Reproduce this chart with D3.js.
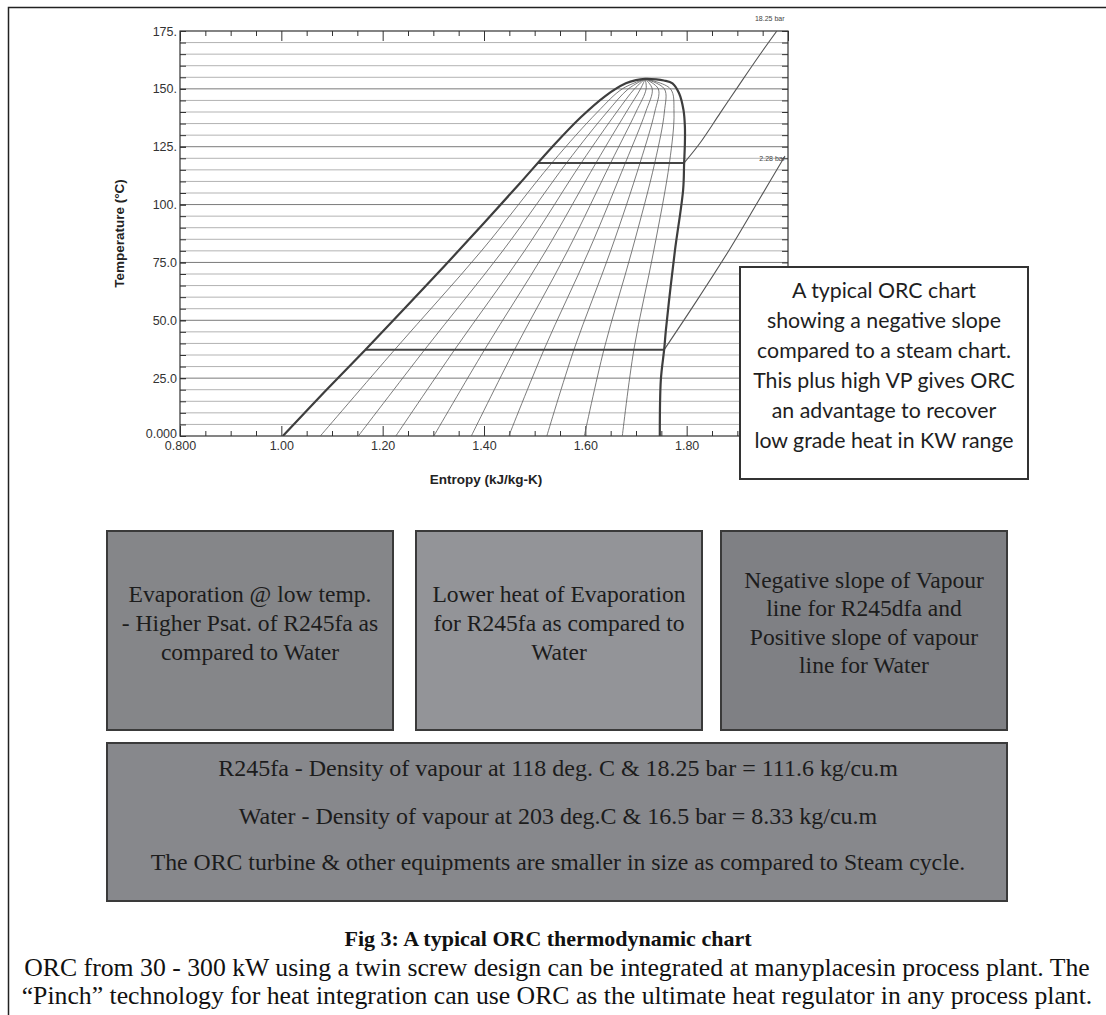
<!DOCTYPE html>
<html>
<head>
<meta charset="utf-8">
<script src="https://cdn.jsdelivr.net/npm/d3@7"></script>
<style>
  body { margin: 0; background: #fff; }
  svg { display: block; }
</style>
</head>
<body>
<svg id="chart"></svg>
<script>
// ---- data (entropy kJ/kg-K, temperature °C) ----
const xMajor = [0.8, 1.0, 1.2, 1.4, 1.6, 1.8, 2.0];
// the 2.00 label sits under the note box in the figure, so it is left blank
const xLabels = ['0.800', '1.00', '1.20', '1.40', '1.60', '1.80', ''];
const yMajor = [0, 25, 50, 75, 100, 125, 150, 175];
const yLabels = ['0.000', '25.0', '50.0', '75.0', '100.', '125.', '150.', '175.'];

// saturated liquid line, bottom to critical point
const liquidLine = [[1.003, 0], [1.085, 19], [1.166, 37.3], [1.245, 55.5], [1.322, 73.5],
  [1.40, 92], [1.47, 109], [1.535, 125], [1.59, 137.5], [1.64, 147], [1.68, 152.4], [1.70, 153.8], [1.718, 154.3]];
// saturated vapour line, critical point to bottom
const vapourLine = [[1.718, 154.3], [1.740, 154.1], [1.755, 153.6], [1.772, 152.4], [1.785, 148.1],
  [1.7937, 140.9], [1.7965, 133.7], [1.7965, 126.5], [1.795, 117.9], [1.793, 106.3], [1.777, 80.4],
  [1.767, 62], [1.759, 45.8], [1.7557, 37.6], [1.749, 24.2], [1.747, 0]];

// constant quality lines (0.1 ... 0.9): entropy at each of these temperatures
const qualityTemps = [0, 37.6, 80, 118, 140, 150, 154.3];
const qualityS = [
  [1.077, 1.225, 1.395, 1.534, 1.624, 1.673, 1.718],
  [1.152, 1.284, 1.437, 1.563, 1.643, 1.685, 1.718],
  [1.226, 1.343, 1.480, 1.592, 1.662, 1.697, 1.718],
  [1.301, 1.402, 1.522, 1.621, 1.681, 1.709, 1.718],
  [1.375, 1.461, 1.565, 1.650, 1.700, 1.720, 1.718],
  [1.449, 1.519, 1.607, 1.679, 1.719, 1.732, 1.718],
  [1.524, 1.578, 1.650, 1.708, 1.737, 1.744, 1.718],
  [1.598, 1.637, 1.692, 1.737, 1.756, 1.756, 1.718],
  [1.673, 1.696, 1.735, 1.766, 1.775, 1.768, 1.718]
];

// evaporation / condensation isotherms
const isoTemps = [118, 37.3];
const isoStart = [1.506, 1.166];
const isoEnd = [1.795, 1.755];

// superheated isobars
const highIsobar = [[1.795, 118], [1.826, 126.5], [1.866, 139.5], [1.906, 152.5], [1.942, 164], [1.978, 175]];
const lowIsobar = [[1.7557, 37.3], [1.82, 58.5], [1.884, 80.4], [1.94, 101], [1.994, 121]];
const isobarLabels = ['18.25 bar', '2.28 bar'];

const noteLines = ['A typical ORC chart', 'showing a negative slope', 'compared to a steam chart.',
  'This plus high VP gives ORC', 'an advantage to recover', 'low grade heat in KW range'];
const box1Lines = ['Evaporation @ low temp.', '- Higher Psat. of R245fa as', 'compared to Water'];
const box2Lines = ['Lower heat of Evaporation', 'for R245fa as compared to', 'Water'];
const box3Lines = ['Negative slope of Vapour', 'line for R245dfa and', 'Positive slope of vapour', 'line for Water'];
const bigBoxLines = ['R245fa - Density of vapour at 118 deg. C & 18.25 bar = 111.6 kg/cu.m',
  'Water - Density of vapour at 203 deg.C & 16.5 bar = 8.33 kg/cu.m',
  'The ORC turbine & other equipments are smaller in size as compared to Steam cycle.'];
const caption = 'Fig 3: A typical ORC thermodynamic chart';
const paragraph = ['ORC from 30 - 300 kW using a twin screw design can be integrated at manyplacesin process plant. The',
  '\u201CPinch\u201D technology for heat integration can use ORC as the ultimate heat regulator in any process plant.'];

// ---- drawing ----
const W = 1106, H = 1015;
const svg = d3.select('#chart').attr('width', W).attr('height', H);
const SANS = 'Liberation Sans, Arial, sans-serif';
const SERIF = 'Liberation Serif, Times New Roman, serif';

// page frame (left and top edges visible)
svg.append('path')
  .attr('d', `M8.5,${H}V7.5H${W}`)
  .attr('fill', 'none').attr('stroke', '#222').attr('stroke-width', 1.5);

const x = d3.scaleLinear().domain([0.8, 2.0]).range([180, 788]);
const y = d3.scaleLinear().domain([0, 175]).range([436, 31]);
const tempGrid = d3.range(0, 176, 5);
const xMinor = d3.range(0.8, 2.001, 0.05).filter(v => !xMajor.some(m => Math.abs(m - v) < 1e-6));

svg.append('defs').append('clipPath').attr('id', 'plotClip')
  .append('rect').attr('x', 180).attr('y', 31).attr('width', 608).attr('height', 405);

// horizontal grid
svg.append('g').selectAll('line')
  .data(tempGrid.filter(d => d > 0 && d < 175))
  .join('line')
  .attr('x1', 180).attr('x2', 788)
  .attr('y1', d => y(d)).attr('y2', d => y(d))
  .attr('stroke', d => d % 25 === 0 ? '#7a7a7a' : '#b3b3b3')
  .attr('stroke-width', 1);

function styleAxis(g) {
  g.select('.domain').remove();
  g.selectAll('.tick line').attr('stroke', '#333').attr('stroke-width', 1);
  g.selectAll('.tick text').attr('fill', '#333').style('font-family', SANS).style('font-size', '12.5px');
}

svg.append('g').attr('transform', 'translate(0,436)')
  .call(d3.axisBottom(x).tickValues(xMajor).tickFormat((d, i) => xLabels[i]).tickSize(-10).tickPadding(5))
  .call(styleAxis);
svg.append('g').attr('transform', 'translate(0,436)')
  .call(d3.axisBottom(x).tickValues(xMinor).tickFormat('').tickSize(-5))
  .call(styleAxis);
svg.append('g').attr('transform', 'translate(0,31)')
  .call(d3.axisTop(x).tickValues(xMajor).tickFormat('').tickSize(-10))
  .call(styleAxis);
svg.append('g').attr('transform', 'translate(0,31)')
  .call(d3.axisTop(x).tickValues(xMinor).tickFormat('').tickSize(-5))
  .call(styleAxis);
svg.append('g').attr('transform', 'translate(180,0)')
  .call(d3.axisLeft(y).tickValues(tempGrid).tickFormat('').tickSize(-6))
  .call(styleAxis);
const yAxisG = svg.append('g').attr('transform', 'translate(180,0)')
  .call(d3.axisLeft(y).tickValues(yMajor).tickFormat((d, i) => yLabels[i]).tickSize(-6).tickPadding(3))
  .call(styleAxis);
// bottom label sits a little above the axis line, as in the figure
yAxisG.selectAll('.tick text').filter(d => d === 0).attr('dy', '0.1em');
svg.append('g').attr('transform', 'translate(788,0)')
  .call(d3.axisRight(y).tickValues(tempGrid).tickFormat('').tickSize(-6))
  .call(styleAxis);

svg.append('rect')
  .attr('x', 180).attr('y', 31).attr('width', 608).attr('height', 405)
  .attr('fill', 'none').attr('stroke', '#333').attr('stroke-width', 1.2);

const line = d3.line()
  .x(d => x(d[0])).y(d => y(d[1]))
  .curve(d3.curveCatmullRom.alpha(0.5));

const plot = svg.append('g').attr('clip-path', 'url(#plotClip)');

// quality lines
plot.append('g').selectAll('path')
  .data(qualityS.map(row => row.map((s, i) => [s, qualityTemps[i]])))
  .join('path')
  .attr('d', line)
  .attr('fill', 'none').attr('stroke', '#5a5a5a').attr('stroke-width', 0.8);

// isobars in superheated region
plot.append('g').selectAll('path')
  .data([highIsobar, lowIsobar])
  .join('path')
  .attr('d', line)
  .attr('fill', 'none').attr('stroke', '#555').attr('stroke-width', 1.1);

// isotherms
plot.append('g').selectAll('line')
  .data(isoTemps)
  .join('line')
  .attr('x1', (d, i) => x(isoStart[i])).attr('x2', (d, i) => x(isoEnd[i]))
  .attr('y1', d => y(d)).attr('y2', d => y(d))
  .attr('stroke', '#444').attr('stroke-width', 2);

// saturation dome
plot.append('path')
  .datum(liquidLine.concat(vapourLine.slice(1)))
  .attr('d', line)
  .attr('fill', 'none').attr('stroke', '#3e3e3e').attr('stroke-width', 2.2);

// isobar labels
svg.append('text')
  .attr('x', x(1.964)).attr('y', 21)
  .attr('text-anchor', 'middle')
  .style('font-family', SANS).style('font-size', '7px').attr('fill', '#444')
  .text(isobarLabels[0]);
svg.append('text')
  .attr('x', 785).attr('y', y(119.7) + 2.5)
  .attr('text-anchor', 'end')
  .style('font-family', SANS).style('font-size', '7px').attr('fill', '#444')
  .text(isobarLabels[1]);

// axis titles
svg.append('text')
  .attr('transform', 'translate(124,233.5) rotate(-90)')
  .attr('text-anchor', 'middle')
  .style('font-family', SANS).style('font-size', '13.5px').style('font-weight', 'bold')
  .attr('fill', '#222')
  .text('Temperature (\u00B0C)');
svg.append('text')
  .attr('x', 486).attr('y', 484)
  .attr('text-anchor', 'middle')
  .style('font-family', SANS).style('font-size', '13.5px').style('font-weight', 'bold')
  .attr('fill', '#222')
  .text('Entropy (kJ/kg-K)');

// ---- text blocks ----
// scale a font so that the reference line gets the width measured on the figure
function fitSize(family, weight, sample, target) {
  const t = svg.append('text').style('font-family', family).style('font-weight', weight)
    .style('font-size', '20px').text(sample);
  const w = t.node().getComputedTextLength();
  t.remove();
  return 20 * target / w;
}

function textBlock(lines, cx, ys, family, size, weight, color) {
  svg.append('g').selectAll('text')
    .data(lines)
    .join('text')
    .attr('x', cx).attr('y', (d, i) => ys[i])
    .attr('text-anchor', 'middle')
    .attr('dominant-baseline', 'central')
    .style('font-family', family).style('font-size', size + 'px').style('font-weight', weight)
    .attr('fill', color)
    .text(d => d);
}

// note box on the chart
svg.append('rect')
  .attr('x', 740).attr('y', 267).attr('width', 288).attr('height', 212)
  .attr('fill', '#fff').attr('stroke', '#333').attr('stroke-width', 2);
const noteSize = fitSize('Lato, sans-serif', 'normal', noteLines[2], 254);
textBlock(noteLines, 884, noteLines.map((d, i) => 290 + 30 * i), 'Lato, sans-serif', noteSize, 'normal', '#1e1e1e');

// grey boxes
const boxes = [
  { x0: 107, x1: 393, y0: 531, y1: 730, fill: '#858689' },
  { x0: 416, x1: 702, y0: 531, y1: 730, fill: '#939498' },
  { x0: 721, x1: 1007, y0: 531, y1: 730, fill: '#7f8084' },
  { x0: 107, x1: 1007, y0: 743, y1: 901, fill: '#87888c' }
];
svg.append('g').selectAll('rect')
  .data(boxes)
  .join('rect')
  .attr('x', d => d.x0).attr('y', d => d.y0)
  .attr('width', d => d.x1 - d.x0).attr('height', d => d.y1 - d.y0)
  .attr('fill', d => d.fill).attr('stroke', '#3a3a3a').attr('stroke-width', 2);

const boxSize = fitSize(SERIF, 'normal', box1Lines[0], 243);
textBlock(box1Lines, 250, [594, 623, 652], SERIF, boxSize, 'normal', '#1c1c1c');
textBlock(box2Lines, 559, [594, 623, 652], SERIF, boxSize, 'normal', '#1c1c1c');
textBlock(box3Lines, 864, [580, 608, 637, 665], SERIF, boxSize, 'normal', '#1c1c1c');

const bigSize = fitSize(SERIF, 'normal', bigBoxLines[0], 680);
textBlock(bigBoxLines.slice(0, 2), 558, [768, 816], SERIF, bigSize, 'normal', '#1c1c1c');
const bigSize3 = fitSize(SERIF, 'normal', bigBoxLines[2], 815);
textBlock([bigBoxLines[2]], 558, [862], SERIF, bigSize3, 'normal', '#1c1c1c');

// caption and paragraph below the figure
textBlock([caption], 548, [938], SERIF, 22, 'bold', '#111');
const paraSize = fitSize(SERIF, 'normal', paragraph[0], 1066);
textBlock(paragraph, 557, [967, 995], SERIF, paraSize, 'normal', '#111');
</script>
</body>
</html>
